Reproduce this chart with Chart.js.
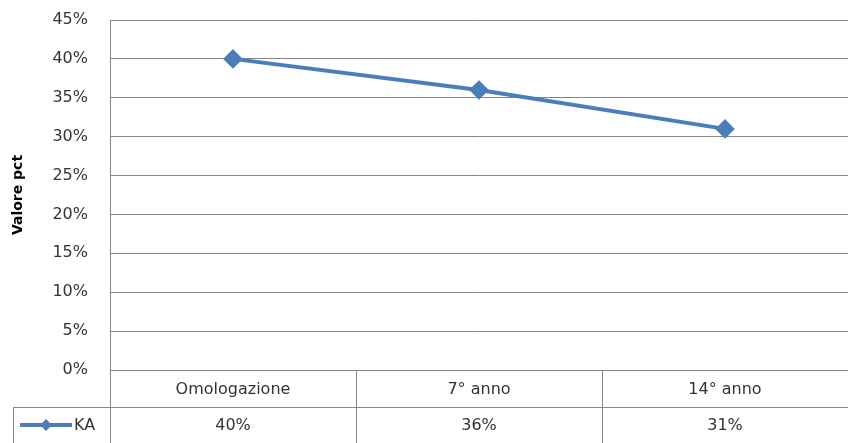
<!DOCTYPE html>
<html>
<head>
<meta charset="utf-8">
<script src="https://cdn.jsdelivr.net/npm/chart.js@4.4.1/dist/chart.umd.min.js"></script>
<style>
  html, body { margin: 0; padding: 0; background: #fff; }
  #wrap { width: 848px; height: 443px; }
</style>
</head>
<body>
<div id="wrap"><canvas id="chart" width="848" height="443"></canvas></div>
<script>
var categories = ['Omologazione', '7° anno', '14° anno'];
var seriesName = 'KA';
var kaValues = [40, 36, 31];
var yMax = 45;
var yStep = 5;

var lineColor = '#4A7EBB';
var gridColor = '#868686';
var textColor = '#333333';
var font = 'DejaVu Sans';

// data table under the plot, like the Excel original
var tablePlugin = {
    id: 'dataTable',
    afterDraw: function(chart) {
        var ctx = chart.ctx;
        var area = chart.chartArea;
        var xs = chart.scales.x;
        var row1 = area.bottom + 37;
        var row2 = chart.height;
        var legLeft = 13;
        var colW = (area.right - area.left) / categories.length;

        ctx.save();
        ctx.strokeStyle = gridColor;
        ctx.lineWidth = 1;
        ctx.beginPath();
        // left axis continues through table
        ctx.moveTo(area.left + 0.5, area.bottom);
        ctx.lineTo(area.left + 0.5, row2);
        // row separator
        ctx.moveTo(legLeft, row1 + 0.5);
        ctx.lineTo(area.right, row1 + 0.5);
        ctx.moveTo(legLeft + 0.5, row1);
        ctx.lineTo(legLeft + 0.5, row2);
        for (var i = 1; i < categories.length; i++) {
            var x = Math.round(area.left + colW * i) + 0.5;
            ctx.moveTo(x, area.bottom);
            ctx.lineTo(x, row2);
        }
        ctx.stroke();

        ctx.fillStyle = textColor;
        ctx.font = '16px "' + font + '"';
        ctx.textAlign = 'center';
        ctx.textBaseline = 'middle';
        categories.forEach(function(c, i) {
            var cx = xs.getPixelForValue(i);
            ctx.fillText(c, cx, (area.bottom + row1) / 2 + 1);
            ctx.fillText(kaValues[i] + '%', cx, (row1 + row2) / 2 + 1);
        });

        // legend key
        var ly = (row1 + row2) / 2;
        ctx.strokeStyle = lineColor;
        ctx.lineWidth = 4;
        ctx.beginPath();
        ctx.moveTo(20, ly);
        ctx.lineTo(72, ly);
        ctx.stroke();
        ctx.fillStyle = lineColor;
        ctx.beginPath();
        ctx.moveTo(46, ly - 6);
        ctx.lineTo(52, ly);
        ctx.lineTo(46, ly + 6);
        ctx.lineTo(40, ly);
        ctx.closePath();
        ctx.fill();
        ctx.fillStyle = textColor;
        ctx.textAlign = 'left';
        ctx.fillText(seriesName, 74, ly + 1);
        ctx.restore();
    }
};

var ctx = document.getElementById('chart');
var chartInstance = new Chart(ctx, {
    type: 'line',
    data: {
        labels: categories,
        datasets: [{
            label: seriesName,
            data: kaValues,
            borderColor: lineColor,
            backgroundColor: lineColor,
            borderWidth: 4,
            pointStyle: 'rectRot',
            pointRadius: 7,
            pointHoverRadius: 7,
            tension: 0
        }]
    },
    options: {
        responsive: false,
        animation: false,
        events: [],
        layout: { autoPadding: false, padding: { left: 10, right: 0, top: 20, bottom: 73 } },
        plugins: {
            legend: { display: false },
            tooltip: { enabled: false }
        },
        scales: {
            x: {
                display: false,
                offset: true
            },
            y: {
                min: 0,
                max: yMax,
                ticks: {
                    stepSize: yStep,
                    color: textColor,
                    padding: 2,
                    font: { family: font, size: 16 },
                    callback: function(v) { return v + '%'; }
                },
                grid: {
                    color: gridColor,
                    lineWidth: 1,
                    drawTicks: true,
                    tickLength: 20,
                    tickColor: 'rgba(0,0,0,0)'
                },
                border: { color: gridColor, width: 1 },
                title: {
                    display: true,
                    text: 'Valore pct',
                    color: '#000',
                    font: { family: font, size: 14, weight: 'bold' },
                    padding: 0
                },
                afterFit: function(scale) { scale.width = 100; }
            }
        }
    },
    plugins: [tablePlugin]
});
</script>
</body>
</html>
